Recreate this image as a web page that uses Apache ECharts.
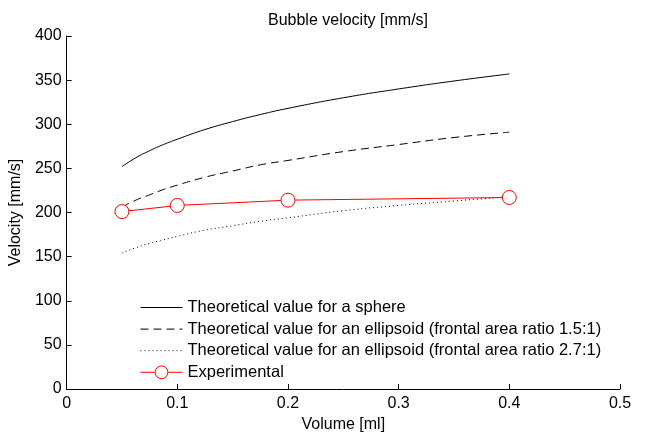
<!DOCTYPE html>
<html>
<head>
<meta charset="utf-8">
<script src="https://cdn.jsdelivr.net/npm/echarts@6/dist/echarts.min.js"></script>
<style>
  html, body { margin: 0; padding: 0; background: #fff; }
  #chart { width: 646px; height: 438px; }
</style>
</head>
<body>
<div id="chart"></div>
<script>
// Bubble volume [ml] sampled along the theoretical curves
const volumes = [0.05, 0.0625, 0.075, 0.0875, 0.1, 0.125, 0.15, 0.175, 0.2, 0.25, 0.3, 0.35, 0.4];
// Theoretical terminal velocities [mm/s]
const sphereVel = [252, 262, 270, 277, 283, 294, 303, 311, 318, 330, 340, 349, 357];
const ellipsoid15Vel = [206, 214, 220, 226, 231, 240, 247, 254, 259, 269, 277, 285, 291];
const ellipsoid27Vel = [154, 160, 165, 169, 173, 180, 185, 190, 194, 202, 208, 213, 218];
// Measured values
const expVolumes = [0.05, 0.1, 0.2, 0.4];
const expVel = [201, 208, 214, 217];

const seriesNames = [
  'Theoretical value for a sphere',
  'Theoretical value for an ellipsoid (frontal area ratio 1.5:1)',
  'Theoretical value for an ellipsoid (frontal area ratio 2.7:1)',
  'Experimental'
];

const pairs = (xs, ys) => xs.map((x, i) => [x, ys[i]]);
const font = 'Liberation Sans, Arial, sans-serif';
const textStyle = { fontFamily: font, fontSize: 16, color: '#000' };

const chart = echarts.init(document.getElementById('chart'), null, { renderer: 'canvas' });
chart.setOption({
  animation: false,
  backgroundColor: '#ffffff',
  title: {
    text: 'Bubble velocity [mm/s]',
    left: 343, textAlign: 'center', top: 8,
    textStyle: Object.assign({ fontWeight: 'normal' }, textStyle)
  },
  grid: { left: 66, right: 26, top: 36, bottom: 48 },
  legend: {
    orient: 'vertical',
    left: 135, top: 294,
    itemWidth: 42, itemHeight: 16, itemGap: 4.6,
    selectedMode: false,
    lineStyle: { width: 1 },
    // plain line samples for the theoretical curves, no marker
    data: [
      { name: seriesNames[0], itemStyle: { opacity: 0 } },
      { name: seriesNames[1], itemStyle: { opacity: 0 } },
      { name: seriesNames[2], itemStyle: { opacity: 0 } },
      { name: seriesNames[3], itemStyle: { color: '#ffffff', borderColor: '#ff0000', borderWidth: 1 } }
    ],
    textStyle: { fontFamily: font, fontSize: 16.5, color: '#000' }
  },
  xAxis: {
    type: 'value', min: 0, max: 0.5, interval: 0.1,
    name: 'Volume [ml]', nameLocation: 'middle', nameGap: 28,
    nameTextStyle: textStyle,
    axisLine: { lineStyle: { color: '#000', width: 1 } },
    axisTick: { inside: true, length: 5, lineStyle: { color: '#000' } },
    axisLabel: Object.assign({ margin: 7,
      formatter: v => (v === 0 ? '0' : String(Math.round(v * 10) / 10)) }, textStyle),
    splitLine: { show: false }
  },
  yAxis: {
    type: 'value', min: 0, max: 400, interval: 50,
    name: 'Velocity [mm/s]', nameLocation: 'middle', nameGap: 37,
    nameTextStyle: textStyle,
    axisLine: { show: true, lineStyle: { color: '#000', width: 1 } },
    axisTick: { show: true, inside: true, length: 5, lineStyle: { color: '#000' } },
    axisLabel: Object.assign({ margin: 5 }, textStyle),
    splitLine: { show: false }
  },
  series: [
    {
      name: seriesNames[0], type: 'line', data: pairs(volumes, sphereVel),
      smooth: true, symbol: 'none', color: '#000',
      lineStyle: { color: '#000', width: 1, type: 'solid' }
    },
    {
      name: seriesNames[1], type: 'line', data: pairs(volumes, ellipsoid15Vel),
      smooth: true, symbol: 'none', color: '#000',
      lineStyle: { color: '#000', width: 1, type: [8, 5] }
    },
    {
      name: seriesNames[2], type: 'line', data: pairs(volumes, ellipsoid27Vel),
      smooth: true, symbol: 'none', color: '#000',
      lineStyle: { color: '#000', width: 1, type: [1, 3] }
    },
    {
      name: seriesNames[3], type: 'line', data: pairs(expVolumes, expVel),
      symbol: 'circle', symbolSize: 14, color: '#ff0000',
      itemStyle: { color: '#ffffff', borderColor: '#ff0000', borderWidth: 1 },
      lineStyle: { color: '#ff0000', width: 1 },
      z: 3
    }
  ]
});
</script>
</body>
</html>
